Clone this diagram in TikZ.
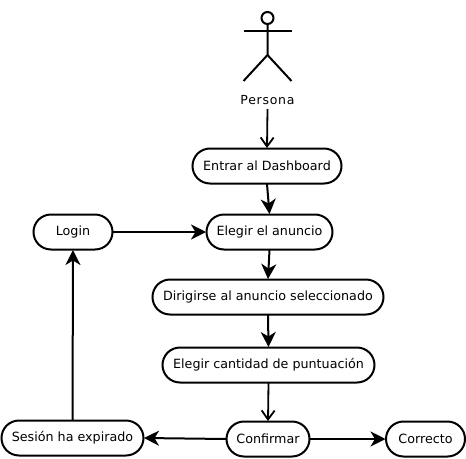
\documentclass[tikz,border=0pt]{standalone}
\usepackage{fontspec}
\setmainfont{DejaVu Sans}
\newfontfamily\spacedfont[LetterSpace=6]{DejaVu Sans}
\usetikzlibrary{arrows.meta}
\tikzset{
  box/.style={draw=black,line width=2pt,rounded corners=17.5pt,minimum height=35pt,inner sep=0pt,outer sep=0.5pt,font=\fontsize{12.7}{15}\selectfont,text=black,fill=white},
  solidflow/.style={draw=black,line width=2pt,-{Stealth[length=15pt,width=15pt,inset=4.5pt]}},
  openflow/.style={draw=black,line width=1.8pt,-{Straight Barb[length=9pt,width=13pt,line width=1.8pt]}},
  actorline/.style={draw=black,line width=2pt},
}
\begin{document}
\begin{tikzpicture}[x=1pt,y=-1pt]
\useasboundingbox (0,0) rectangle (466,458);
\draw[actorline] (267.5,18) circle (6pt);
\draw[actorline] (267.5,24) -- (267.5,55) -- (243.5,81);
\draw[actorline] (267.5,55) -- (291.5,81);
\draw[actorline] (243.5,30.5) -- (291.5,30.5);
\node[font=\fontsize{12.5}{15}\selectfont\spacedfont,inner sep=0pt] (persona) at (267.5,100.5) {Persona};
\coordinate (personaout) at (267.5,109);
\node[box,minimum width=149pt] (entrar) at (267,166) {Entrar al Dashboard};
\node[box,minimum width=126pt] (elegir) at (269.5,232) {Elegir el anuncio};
\node[box,minimum width=79pt] (login) at (73,232) {Login};
\node[box,minimum width=231pt] (dirigirse) at (268,297) {Dirigirse al anuncio seleccionado};
\node[box,minimum width=212pt] (cantidad) at (268.5,365) {Elegir cantidad de puntuación};
\node[box,minimum width=83pt] (confirmar) at (268,439) {Confirmar};
\node[box,minimum width=142pt] (sesion) at (72.5,438) {Sesión ha expirado};
\node[box,minimum width=79pt] (correcto) at (425.5,439) {Correcto};
\draw[openflow] (personaout) -- (entrar.north);
\draw[solidflow] (entrar.south) -- (elegir.north);
\draw[solidflow] (login.east) -- (elegir.west);
\draw[solidflow] (elegir.south) -- (dirigirse.north);
\draw[solidflow] (dirigirse.south) -- (cantidad.north);
\draw[openflow] (cantidad.south) -- (confirmar.north);
\draw[solidflow] (confirmar.west) -- (sesion.east);
\draw[solidflow] (confirmar.east) -- (correcto.west);
\draw[solidflow] (sesion.north) -- (login.south);
\end{tikzpicture}
\end{document}
